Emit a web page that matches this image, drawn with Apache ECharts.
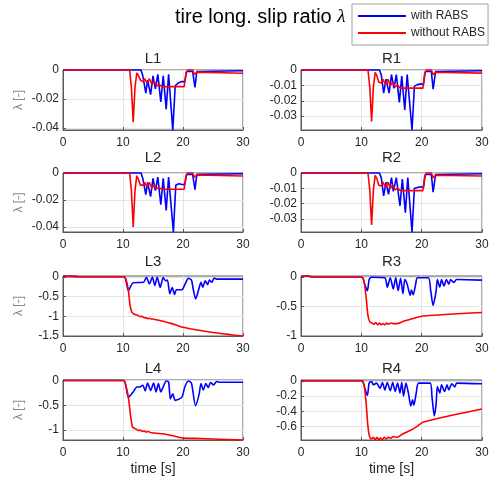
<!DOCTYPE html>
<html lang="en">
<head>
<meta charset="UTF-8">
<title>tire long. slip ratio</title>
<style>html,body{margin:0;padding:0;background:#fff;}</style>
</head>
<body>
<div id="main" style="width:495px;height:480px;"></div>
<script src="https://cdn.jsdelivr.net/npm/echarts@6/dist/echarts.min.js"></script>
<script>
// panels, row by row (left wheel, right wheel)
var wheels = ['L1', 'R1', 'L2', 'R2', 'L3', 'R3', 'L4', 'R4'];
var seriesNames = ['with RABS', 'without RABS'];

// y tick labels of each panel
var yTicks = [
    [0, -0.02, -0.04], [0, -0.01, -0.02, -0.03],
    [0, -0.02, -0.04], [0, -0.01, -0.02, -0.03],
    [0, -0.5, -1, -1.5], [0, -0.5, -1],
    [0, -0.5, -1], [0, -0.2, -0.4, -0.6]
];
var yMin = [-0.0414, -0.039, -0.0437, -0.0386, -1.5, -1.0, -1.2, -0.775];
var yMax = [0, 0, 0, 0, 0.02, 0.02, 0.01, 0.01];

// [time s, slip ratio]
var l1With = [[0,0],[13.0,0],[13.3,-0.004],[13.8,-0.016],[14.1,-0.007],[14.6,-0.017],[15.0,-0.004],[15.4,-0.013],[15.8,-0.003],[16.3,-0.022],[16.7,-0.004],[17.2,-0.027],[17.6,-0.003],[18.3,-0.0414],[18.7,-0.011],[19.2,-0.009],[19.8,-0.008],[20.3,-0.008],[20.6,-0.001],[21.6,-0.001],[22.0,-0.012],[22.3,-0.001],[30,-0.0005]];
var l1Without = [[0,0],[11.1,0],[11.4,-0.012],[11.7,-0.036],[12.0,-0.012],[12.3,-0.002],[12.6,-0.004],[12.9,-0.007],[13.3,-0.008],[13.6,-0.006],[14.0,-0.009],[14.4,-0.006],[14.8,-0.010],[15.2,-0.008],[15.6,-0.011],[16.0,-0.010],[16.5,-0.0115],[20.2,-0.0115],[20.5,-0.002],[20.8,0],[21.6,0],[21.9,-0.003],[22.3,-0.0015],[30,-0.0022]];

var r1With = [[0,0],[13.0,0],[13.3,-0.003],[13.7,-0.015],[14.1,-0.006],[14.6,-0.015],[15.0,-0.003],[15.4,-0.012],[15.8,-0.003],[16.3,-0.021],[16.7,-0.004],[17.2,-0.026],[17.6,-0.003],[18.4,-0.039],[18.8,-0.0105],[19.3,-0.0095],[19.9,-0.009],[20.3,-0.0095],[20.6,-0.001],[21.6,-0.001],[21.9,-0.0125],[22.3,-0.001],[30,-0.0005]];
var r1Without = [[0,0],[11.1,0],[11.4,-0.011],[11.7,-0.0335],[12.0,-0.011],[12.3,-0.0015],[12.6,-0.004],[12.9,-0.008],[13.3,-0.0085],[13.6,-0.006],[14.0,-0.0095],[14.4,-0.006],[14.8,-0.010],[15.2,-0.008],[15.6,-0.011],[16.0,-0.010],[16.5,-0.0118],[20.2,-0.0118],[20.5,-0.002],[20.8,0],[21.6,0],[21.9,-0.003],[22.3,-0.0015],[30,-0.002]];

var l2With = [[0,0],[13.0,0],[13.3,-0.004],[13.8,-0.016],[14.1,-0.007],[14.6,-0.0175],[15.0,-0.004],[15.4,-0.013],[15.8,-0.003],[16.3,-0.0235],[16.7,-0.004],[17.2,-0.0277],[17.6,-0.003],[18.4,-0.0437],[18.8,-0.009],[19.3,-0.008],[19.9,-0.0085],[20.3,-0.0085],[20.6,-0.001],[21.6,-0.001],[22.0,-0.0124],[22.3,-0.001],[30,-0.0005]];
var l2Without = [[0,0],[11.1,0],[11.4,-0.013],[11.7,-0.040],[12.0,-0.013],[12.3,-0.002],[12.6,-0.005],[12.9,-0.009],[13.3,-0.009],[13.6,-0.007],[14.0,-0.010],[14.4,-0.007],[14.8,-0.011],[15.2,-0.009],[15.6,-0.0115],[16.0,-0.011],[16.5,-0.012],[20.2,-0.012],[20.5,-0.002],[20.8,0],[21.6,0],[21.9,-0.003],[22.3,-0.0015],[30,-0.0022]];

var r2With = [[0,0],[13.0,0],[13.3,-0.003],[13.7,-0.015],[14.1,-0.006],[14.5,-0.014],[15.0,-0.003],[15.3,-0.012],[15.8,-0.003],[16.4,-0.0216],[16.8,-0.004],[17.3,-0.026],[17.7,-0.003],[18.4,-0.0386],[18.8,-0.010],[19.3,-0.0095],[19.9,-0.009],[20.3,-0.0095],[20.6,-0.001],[21.6,-0.001],[21.9,-0.0125],[22.3,-0.001],[30,-0.0005]];
var r2Without = [[0,0],[11.1,0],[11.4,-0.011],[11.7,-0.034],[12.0,-0.011],[12.3,-0.0015],[12.6,-0.004],[12.9,-0.008],[13.3,-0.0085],[13.6,-0.006],[14.0,-0.0095],[14.4,-0.006],[14.8,-0.010],[15.2,-0.008],[15.6,-0.011],[16.0,-0.010],[16.5,-0.0115],[20.2,-0.0115],[20.5,-0.002],[20.8,0],[21.6,0],[21.9,-0.003],[22.3,-0.0015],[30,-0.002]];

var l3With = [[0,0.01],[1.5,0.01],[3,0],[10.2,0],[10.5,-0.1],[10.9,-0.35],[11.7,-0.15],[13.4,-0.14],[13.9,-0.01],[14.4,-0.18],[14.9,-0.01],[15.3,-0.22],[15.7,-0.01],[16.2,-0.27],[16.7,-0.02],[17.1,-0.1],[17.4,-0.08],[17.8,-0.43],[18.2,-0.27],[18.6,-0.45],[18.9,-0.33],[19.8,-0.33],[20.3,-0.2],[20.9,-0.04],[21.4,-0.08],[21.7,-0.31],[22.1,-0.56],[22.6,-0.33],[23.0,-0.14],[23.3,-0.27],[23.7,-0.1],[24.1,-0.2],[24.4,-0.08],[24.8,-0.14],[25.2,-0.03],[25.6,-0.06],[30,-0.06]];
var l3Without = [[0,0.01],[1.5,0.01],[3,0],[10.2,0],[10.6,-0.12],[10.9,-0.35],[11.2,-0.75],[11.5,-0.9],[11.9,-0.95],[12.3,-0.97],[12.6,-0.99],[12.9,-1.01],[13.2,-1.0],[13.5,-1.04],[13.8,-1.03],[14.1,-1.06],[14.4,-1.05],[14.7,-1.07],[15.0,-1.07],[15.5,-1.09],[16,-1.1],[17,-1.14],[18,-1.18],[19,-1.23],[20,-1.28],[21,-1.31],[25,-1.41],[30,-1.5]];

var r3With = [[0,0.01],[1,0.02],[2,0],[10.1,0],[10.5,-0.1],[11.0,-0.23],[11.3,-0.04],[11.7,0],[13.9,-0.01],[14.3,-0.17],[14.8,-0.01],[15.3,-0.2],[15.7,-0.01],[16.1,-0.23],[16.5,-0.02],[16.9,-0.28],[17.2,-0.04],[17.6,-0.12],[18.1,-0.31],[18.3,-0.22],[18.6,-0.30],[19.0,-0.12],[19.3,-0.01],[21.1,-0.01],[21.5,-0.23],[21.9,-0.48],[22.4,-0.23],[22.6,-0.04],[23.0,-0.17],[23.3,-0.04],[23.7,-0.15],[24.1,-0.04],[24.5,-0.12],[24.8,-0.04],[25.3,-0.09],[25.8,-0.04],[30,-0.05]];
var r3Without = [[0,0.01],[1,0.02],[2,0],[10.1,0],[10.5,-0.1],[10.8,-0.35],[11.1,-0.65],[11.4,-0.76],[11.8,-0.78],[12.1,-0.8],[12.4,-0.77],[12.7,-0.81],[13.0,-0.78],[13.3,-0.81],[13.6,-0.79],[13.9,-0.81],[14.2,-0.78],[14.5,-0.8],[14.9,-0.78],[15.3,-0.79],[15.9,-0.79],[17,-0.75],[18,-0.72],[19,-0.69],[20.2,-0.66],[30,-0.6]];

var l4With = [[0,0],[10.1,0],[10.5,-0.12],[10.9,-0.34],[11.7,-0.23],[12.3,-0.13],[12.8,-0.13],[13.3,-0.095],[13.7,-0.21],[14.1,-0.05],[14.6,-0.2],[15.1,-0.05],[15.5,-0.23],[15.9,-0.06],[16.3,-0.23],[16.7,-0.13],[17.2,-0.01],[17.6,-0.03],[17.9,-0.37],[18.3,-0.27],[18.7,-0.4],[19.8,-0.34],[20.3,-0.13],[20.9,-0.01],[21.4,-0.05],[22.1,-0.51],[22.7,-0.27],[23.0,-0.06],[23.4,-0.19],[23.8,-0.06],[24.2,-0.14],[24.6,-0.04],[25.1,-0.09],[25.6,-0.02],[26,-0.035],[30,-0.035]];
var l4Without = [[0,0],[10.1,0],[10.5,-0.12],[10.9,-0.34],[11.3,-0.75],[11.6,-0.94],[12.0,-0.97],[12.3,-0.99],[12.6,-1.01],[12.9,-1.0],[13.2,-1.03],[13.5,-1.02],[13.9,-1.04],[14.2,-1.03],[14.6,-1.05],[15.1,-1.06],[16,-1.07],[17.3,-1.09],[18.5,-1.12],[20.0,-1.16],[22.8,-1.17],[30,-1.2]];

var r4With = [[0,0],[10.1,0],[10.5,-0.08],[11.0,-0.19],[11.3,-0.03],[11.7,-0.01],[12.0,-0.053],[12.5,-0.031],[13.1,-0.098],[13.5,-0.022],[13.9,-0.12],[14.3,-0.022],[14.8,-0.13],[15.2,-0.022],[15.6,-0.14],[16.0,-0.031],[16.4,-0.16],[16.7,-0.022],[17.0,-0.2],[17.4,-0.031],[17.8,-0.16],[18.2,-0.33],[18.5,-0.25],[18.7,-0.32],[19.1,-0.16],[19.5,-0.031],[21.4,-0.031],[21.7,-0.2],[22.1,-0.46],[22.4,-0.3],[22.6,-0.076],[23.0,-0.16],[23.3,-0.053],[23.8,-0.14],[24.2,-0.053],[24.5,-0.12],[25.0,-0.04],[25.5,-0.08],[25.8,-0.031],[30,-0.04]];
var r4Without = [[0,0],[10.1,0],[10.5,-0.08],[10.8,-0.3],[11.1,-0.6],[11.4,-0.74],[11.7,-0.76],[12.0,-0.74],[12.3,-0.77],[12.6,-0.74],[12.9,-0.77],[13.2,-0.75],[13.5,-0.77],[13.8,-0.74],[14.1,-0.76],[14.5,-0.74],[14.9,-0.75],[15.3,-0.73],[15.9,-0.74],[17,-0.69],[18.1,-0.65],[19.2,-0.6],[20.3,-0.54],[30,-0.37]];

var withRabs = [l1With, r1With, l2With, r2With, l3With, r3With, l4With, r4With];
var withoutRabs = [l1Without, r1Without, l2Without, r2Without, l3Without, r3Without, l4Without, r4Without];

// layout
var colLeft = [63, 301], colWidth = [180, 181];
var rowTop = [70, 173, 276, 380], rowHeight = [60, 59, 60, 60];
var titleY = [59, 158, 262, 369];
var font = 'Liberation Sans, Arial, sans-serif';
var boxColor = '#5a5a5a';
var textColor = '#262626';

var grids = [], xAxes = [], yAxes = [], series = [], graphics = [];

wheels.forEach(function (name, i) {
    var col = i % 2, row = Math.floor(i / 2);
    // lower rows are smoother curves
    var smooth = row >= 2 ? 0.25 : 0;
    grids.push({
        left: colLeft[col], top: rowTop[row], width: colWidth[col], height: rowHeight[row],
        show: true, borderColor: boxColor, borderWidth: 1, backgroundColor: '#fff'
    });
    xAxes.push({
        gridIndex: i, type: 'value', min: 0, max: 30, interval: 10,
        axisLine: {show: true, onZero: false, lineStyle: {color: boxColor}},
        axisTick: {show: true, inside: true, length: 3, lineStyle: {color: boxColor}},
        axisLabel: {fontSize: 12, color: textColor, fontFamily: font, margin: 7},
        splitLine: {show: true, lineStyle: {color: '#e4e4e4'}},
        name: row === 3 ? 'time [s]' : '',
        nameLocation: 'middle', nameGap: 22,
        nameTextStyle: {fontSize: 14, color: textColor, fontFamily: font}
    });
    yAxes.push({
        gridIndex: i, type: 'value', min: yMin[i], max: yMax[i],
        axisLine: {show: true, onZero: false, lineStyle: {color: boxColor}},
        axisTick: {show: true, inside: true, length: 3, customValues: yTicks[i], lineStyle: {color: boxColor}},
        axisLabel: {fontSize: 12, color: textColor, fontFamily: font, margin: 4, customValues: yTicks[i]},
        splitLine: {show: true, lineStyle: {color: '#e4e4e4'}},
        name: col === 0 ? 'λ [-]' : '',
        nameLocation: 'middle', nameRotate: 90, nameGap: 38,
        nameTextStyle: {fontSize: 12, color: '#8a8a8a', fontFamily: font}
    });
    series.push({
        name: seriesNames[0], type: 'line', xAxisIndex: i, yAxisIndex: i,
        data: withRabs[i], symbol: 'none', clip: false, smooth: smooth,
        lineStyle: {color: '#0000ff', width: 1.6}, itemStyle: {color: '#0000ff'}
    });
    series.push({
        name: seriesNames[1], type: 'line', xAxisIndex: i, yAxisIndex: i,
        data: withoutRabs[i], symbol: 'none', clip: false, smooth: smooth,
        lineStyle: {color: '#ff0000', width: 1.6}, itemStyle: {color: '#ff0000'}
    });
    graphics.push({
        type: 'text', x: colLeft[col] + colWidth[col] / 2, y: titleY[row],
        style: {text: name, fill: textColor, font: '15px ' + font, align: 'center', verticalAlign: 'middle'}
    });
});

graphics.push({
    type: 'text', x: 175, y: 7,
    style: {
        text: '{a|tire long. slip ratio }{b|λ}',
        rich: {
            a: {fontSize: 20, fontFamily: font, color: '#000'},
            b: {fontSize: 19, fontFamily: 'Liberation Serif, serif', fontStyle: 'italic', color: '#000'}
        }
    }
});

var chart = echarts.init(document.getElementById('main'));
chart.setOption({
    animation: false,
    backgroundColor: '#fff',
    grid: grids,
    xAxis: xAxes,
    yAxis: yAxes,
    series: series,
    graphic: graphics,
    legend: {
        data: seriesNames,
        icon: 'rect',
        orient: 'vertical', left: 352, top: 4,
        itemWidth: 48, itemHeight: 2, itemGap: 5,
        padding: [6, 3, 6, 6],
        borderColor: '#a0a0a0', borderWidth: 1, backgroundColor: '#fff',
        textStyle: {fontSize: 12, color: textColor, fontFamily: font, padding: [0, 0, 0, 0]}
    }
});
</script>
</body>
</html>
